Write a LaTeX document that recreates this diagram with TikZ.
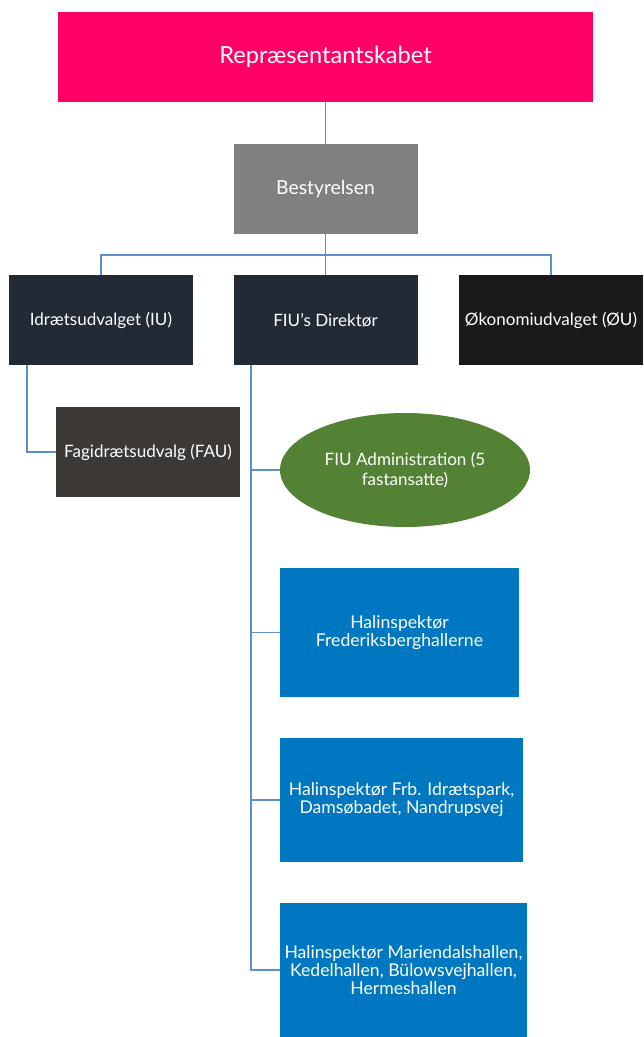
\documentclass[tikz,border=0pt]{standalone}
\usepackage{fontspec}
\setmainfont{Lato}
\usetikzlibrary{positioning,shapes.geometric}
\definecolor{repcol}{HTML}{FF0066}
\definecolor{boardcol}{HTML}{808080}
\definecolor{navycol}{HTML}{222A35}
\definecolor{blackcol}{HTML}{1A1A1A}
\definecolor{faucol}{HTML}{3B3836}
\definecolor{admincol}{HTML}{548235}
\definecolor{halcol}{HTML}{0078C1}
\definecolor{linkcol}{HTML}{5F8FCB}

\begin{document}
\begin{tikzpicture}[x=0.75pt,y=-0.75pt,
 box/.style={rectangle, inner sep=2pt, text=white, align=center,
  minimum width=138pt, minimum height=67.5pt, font=\fontsize{12.8}{13.5}\selectfont},
 hal/.style={box, fill=halcol, font=\fontsize{13.2}{13.4}\selectfont},
 link/.style={draw=linkcol, line width=1.2pt}]
\useasboundingbox (0,0) rectangle (643,1037);

% top levels
\node[box, fill=repcol, minimum width=401.25pt, font=\fontsize{17.7}{20}\selectfont] (rep) at (325.5,57) {Repræsentantskabet};
\node[box, fill=boardcol, font=\fontsize{14.5}{16}\selectfont] (best) at (325.5,189) {Bestyrelsen};
\coordinate (bus) at (325.5,255);

\node[box, fill=navycol] (iu) at (101,320) {Idrætsudvalget (IU)};
\node[box, fill=navycol] (dir) at (325.5,320) {FIU’s Direktør};
\node[box, fill=blackcol] (oe) at (551,320) {Økonomiudvalget (ØU)};

\node[box, fill=faucol] (fau) at (148,452) {Fagidrætsudvalg (FAU)};

% under the director
\node[ellipse, fill=admincol, text=white, align=center, inner sep=0pt,
 minimum width=187.5pt, minimum height=85.5pt, font=\fontsize{12.8}{15}\selectfont]
 (admin) at (405,470) {FIU Administration (5\\fastansatte)};
\node[hal, minimum width=179.25pt, minimum height=96.75pt] (hal1) at (399.5,632.5) {Halinspektør\\Frederiksberghallerne};
\node[hal, minimum width=182.25pt, minimum height=93pt] (hal2) at (401.5,800) {Halinspektør Frb. Idrætspark,\\Damsøbadet, Nandrupsvej};
\node[hal, minimum width=185.25pt, minimum height=100.5pt] (hal3) at (403.5,970) {Halinspektør Mariendalshallen,\\Kedelhallen, Bülowsvejhallen,\\Hermeshallen};

\path[link] (rep) -- (best)
      (best) -- (bus)
      (bus) -| (iu)
      (bus) -| (oe)
      (bus) -- (dir)
;
\draw[link] ([xshift=13.5pt]iu.south west) |- (fau.west);
\draw[link] ([xshift=13.5pt]dir.south west) |- (hal3.west);
\foreach \n in {admin,hal1,hal2}
  \draw[link] ([xshift=13.5pt]dir.south west) |- (\n.west);
\end{tikzpicture}
\end{document}
